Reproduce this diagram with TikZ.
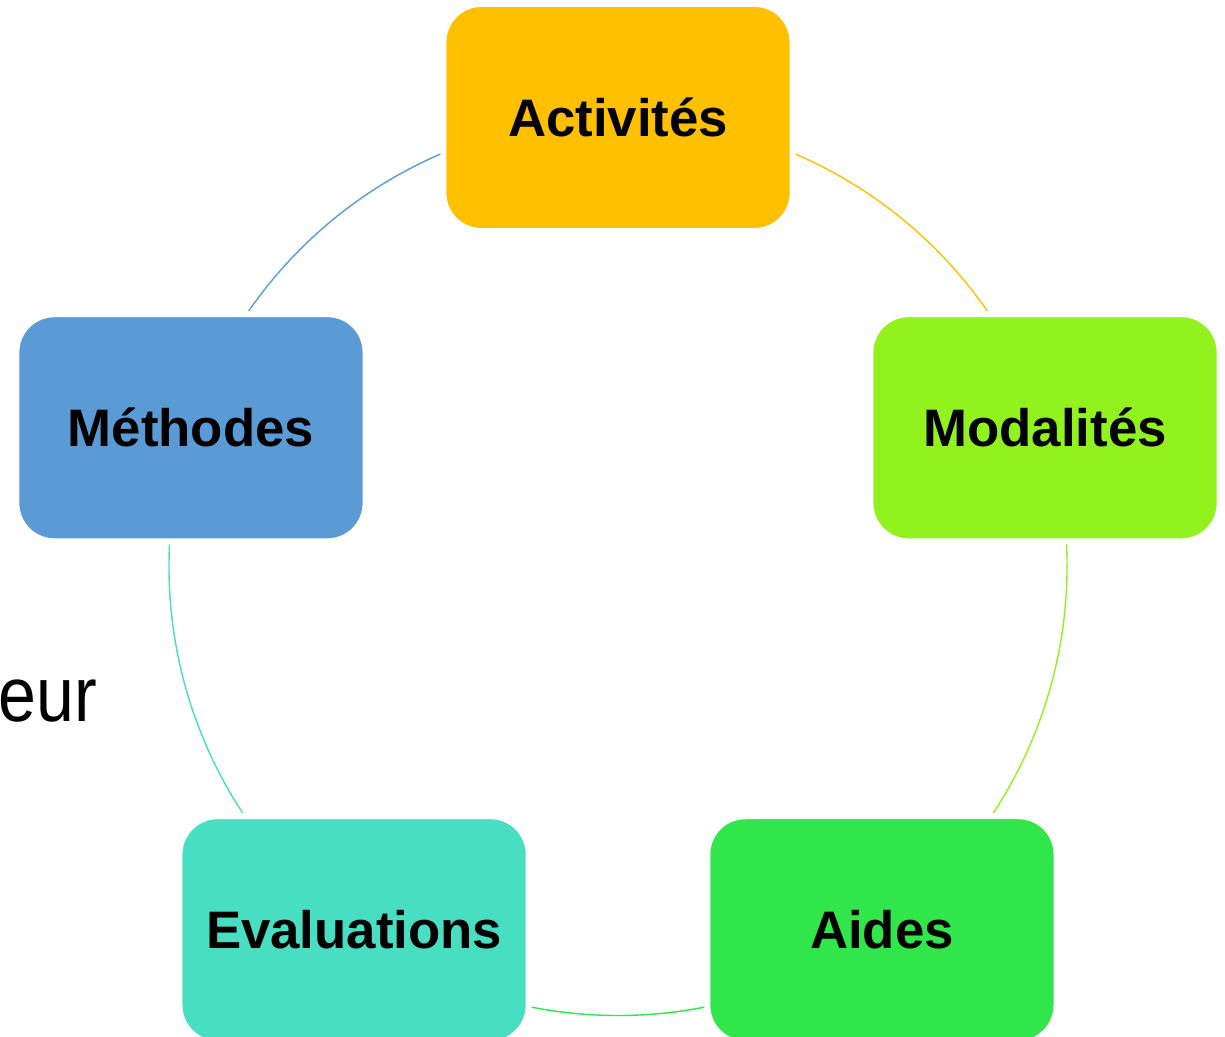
\documentclass[tikz,border=0pt]{standalone}
\usepackage{fontspec}
\setmainfont{Liberation Sans}
\usetikzlibrary{backgrounds}
\definecolor{activ}{HTML}{FFC000}
\definecolor{modal}{HTML}{92F21E}
\definecolor{aide}{HTML}{31E64A}
\definecolor{evalu}{HTML}{48DEC2}
\definecolor{meth}{HTML}{5B9BD5}
\begin{document}
\begin{tikzpicture}[x=0.01cm, y=-0.01cm, line join=round, line cap=round,
		box/.style={draw=white, line width=0.06cm, rounded corners=0.38cm, minimum width=3.49cm, minimum height=2.27cm, inner sep=0pt, font=\fontsize{15}{17}\selectfont\bfseries},
		ring/.style={line width=0.4pt}]
	\useasboundingbox (0,0) rectangle (1225,1036);
	\coordinate (O) at (618,566.5);
	\foreach \name/\txt/\col [count=\i, evaluate=\i as \a using -162+72*\i] in {act/Activités/activ, mod/Modalités/modal, aid/Aides/aide, eva/Evaluations/evalu, met/Méthodes/meth}
		\node[box, fill=\col] (\name) at ([shift={(\a:449)}]O) {\txt};
	\node[anchor=base east, inner sep=0pt, font=\fontsize{22}{26}\selectfont] (eur) at (98,721) {\scalebox{0.88}[1]{eur}};
	
	\begin{scope}[on background layer]
		\foreach \from/\to/\col [count=\i, evaluate=\i as \a using -162+72*\i] in {act/mod/activ, mod/aid/modal, aid/eva/aide, eva/met/evalu, met/act/meth}
			\draw[ring, \col] (\from.center) arc[start angle=\a, delta angle=72, radius=449] -- (\to.center);
	\end{scope}
\end{tikzpicture}
\end{document}
